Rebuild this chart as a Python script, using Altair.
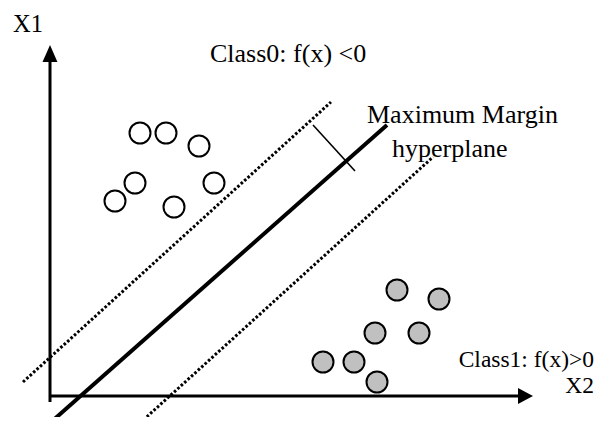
import altair as alt
import pandas as pd

# ---- data (diagram units: origin at the axes corner, X2 right, X1 up) ----
class0_x = [90, 116, 149, 85, 164, 65, 124]
class0_y = [263, 263, 250, 213, 213, 195, 189]
class1_x = [347, 389, 325, 369, 273, 304, 327]
class1_y = [106, 97, 63, 63, 34, 34, 14]

hyper_x, hyper_y = [0, 337], [-27, 271]
upper_x, upper_y = [-27, 281], [14, 294]
lower_x, lower_y = [90, 383], [-27, 239]
perp_x, perp_y = [263, 305], [271, 225]

yaxis_x, yaxis_y = [0, 0], [-6, 336]
xaxis_x, xaxis_y = [0, 470], [0, 0]
arrow_up_x, arrow_up_y = [0], [342.5]
arrow_right_x, arrow_right_y = [475.5], [0]

labels = ["X1", "Class0: f(x) <0", "Maximum Margin", "hyperplane", "Class1: f(x)>0", "X2"]
label_x = [-37, 160, 317, 342, 544, 544]
label_y = [364, 334, 273, 239, 29, 3]
label_size = [24.5, 26, 26, 26, 23.5, 23.5]
label_align = ["left", "left", "left", "left", "right", "right"]

XS = alt.Scale(domain=[-42, 545])
YS = alt.Scale(domain=[-21, 388])
FONT = "Liberation Serif"


def enc(ch, order=True):
    e = dict(x=alt.X("x:Q", scale=XS, axis=None), y=alt.Y("y:Q", scale=YS, axis=None))
    if order:
        e["order"] = alt.Order("i:Q")
    return ch.encode(**e)


def seg(xs, ys):
    return pd.DataFrame({"x": xs, "y": ys, "i": list(range(len(xs)))})


layers = []
# axes
layers.append(enc(alt.Chart(seg(yaxis_x, yaxis_y)).mark_line(color="black", strokeWidth=3)))
layers.append(enc(alt.Chart(seg(xaxis_x, xaxis_y)).mark_line(color="black", strokeWidth=3)))
layers.append(enc(alt.Chart(seg(arrow_up_x, arrow_up_y)).mark_point(
    shape="M0,-1L0.88,1L-0.88,1Z", size=289, filled=True, color="black", opacity=1, strokeWidth=0), order=False))
layers.append(enc(alt.Chart(seg(arrow_right_x, arrow_right_y)).mark_point(
    shape="M1,0L-1,1.07L-1,-1.07Z", size=225, filled=True, color="black", opacity=1, strokeWidth=0), order=False))

# hyperplane and margins
layers.append(enc(alt.Chart(seg(hyper_x, hyper_y)).mark_line(color="black", strokeWidth=4)))
layers.append(enc(alt.Chart(seg(upper_x, upper_y)).mark_line(color="black", strokeWidth=3, strokeDash=[2.6, 2.0])))
layers.append(enc(alt.Chart(seg(lower_x, lower_y)).mark_line(color="black", strokeWidth=3, strokeDash=[2.6, 2.0])))
layers.append(enc(alt.Chart(seg(perp_x, perp_y)).mark_line(color="black", strokeWidth=1.6)))

# points
layers.append(enc(alt.Chart(pd.DataFrame({"x": class0_x, "y": class0_y})).mark_circle(
    size=441, fill="white", stroke="black", strokeWidth=2, opacity=1), order=False))
layers.append(enc(alt.Chart(pd.DataFrame({"x": class1_x, "y": class1_y})).mark_circle(
    size=441, fill="#c0c0c0", stroke="black", strokeWidth=2, opacity=1), order=False))

# labels
for t, lx, ly, fs, al in zip(labels, label_x, label_y, label_size, label_align):
    layers.append(enc(alt.Chart(pd.DataFrame({"x": [lx], "y": [ly], "t": [t]})).mark_text(
        font=FONT, fontSize=fs, align=al, baseline="alphabetic", color="black"), order=False).encode(text="t:N"))

chart = alt.layer(*layers).properties(
    width=587, height=409, padding=0, background="white",
    autosize=alt.AutoSizeParams(type="none"),
).configure_view(stroke=None)

chart.save("out.html", embed_options={"renderer": "svg", "actions": False})
